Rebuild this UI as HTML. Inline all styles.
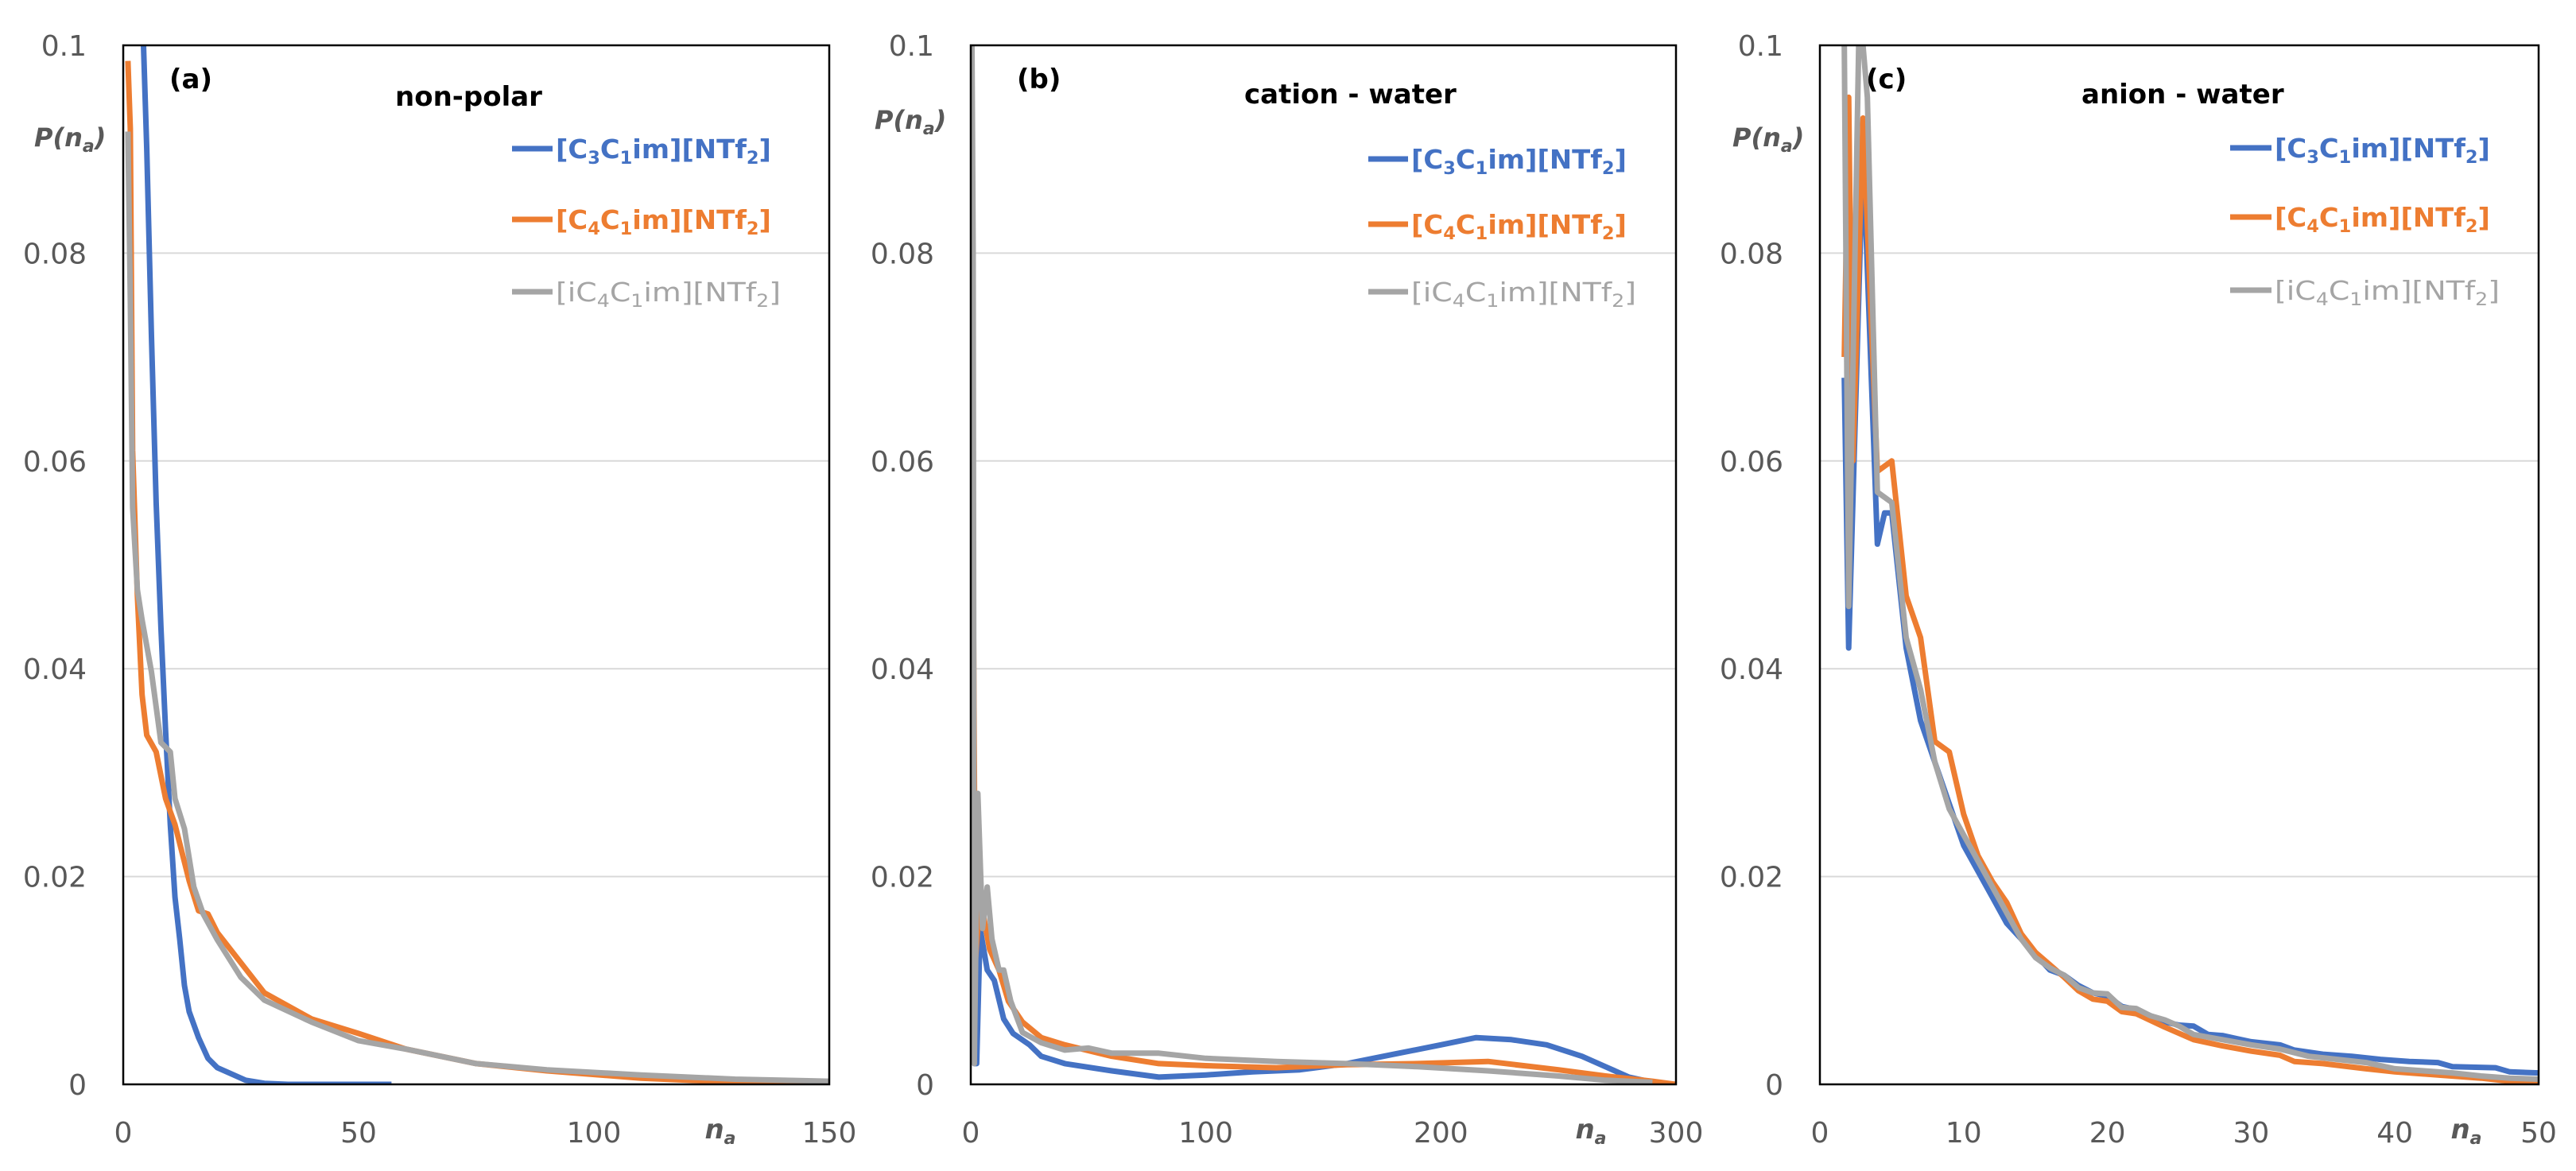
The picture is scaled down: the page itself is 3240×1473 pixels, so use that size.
<!DOCTYPE html>
<html><head><meta charset="utf-8"><style>
html,body{margin:0;padding:0;background:#fff;}
svg{display:block;font-family:"DejaVu Sans","Liberation Sans",sans-serif;}
</style></head><body>
<svg id="chart" width="3240" height="1473" viewBox="0 0 3240 1473" xmlns="http://www.w3.org/2000/svg"></svg>
<script>
// Panel (a) non-polar
const aBlueX=[4.3,5,6,7,8,9,10,11,12,13,14,16,18,20,23,26,30,35,57];
const aBlueY=[0.1,0.09,0.072,0.056,0.044,0.034,0.025,0.018,0.014,0.0095,0.007,0.0045,0.0025,0.0016,0.001,0.0004,0.0001,0,0];
const aOrX=[1,1.5,2,3,4,5,7,9,11,14,16,18,20,25,30,40,50,60,75,90,110,130,150];
const aOrY=[0.0985,0.092,0.061,0.047,0.0375,0.0336,0.032,0.0275,0.025,0.0196,0.0167,0.0164,0.0146,0.0117,0.0088,0.0063,0.0049,0.0034,0.002,0.0013,0.0006,0.0002,0.0002];
const aGrX=[1,1.5,2,3,4,6,8,10,11,13,15,17,20,25,30,40,50,60,75,90,110,130,150];
const aGrY=[0.0917,0.0756,0.0555,0.0476,0.0447,0.0397,0.0329,0.032,0.0275,0.0246,0.019,0.0164,0.0139,0.0103,0.0081,0.006,0.0042,0.0034,0.002,0.0014,0.0009,0.0005,0.0003];
// Panel (b) cation - water
const bBlueX=[0,0.6,1.5,2.5,4,7,10,14,18,25,30,40,60,80,100,120,140,160,180,200,215,230,245,260,270,280,290,295];
const bBlueY=[0.002,0.065,0.002,0.002,0.015,0.011,0.01,0.0063,0.0049,0.0038,0.0027,0.002,0.0013,0.0007,0.0009,0.0012,0.0014,0.002,0.0029,0.0038,0.0045,0.0043,0.0038,0.0027,0.0017,0.0007,0.0002,0];
const bOrX=[0,0.6,2,4,8,12,16,22,30,40,60,80,100,130,160,190,220,250,270,290,300];
const bOrY=[0.002,0.065,0.012,0.018,0.013,0.011,0.008,0.006,0.0045,0.0038,0.0027,0.002,0.0018,0.0016,0.0019,0.002,0.0022,0.0014,0.0008,0.0003,0];
const bGrX=[0,0.5,1,1.5,3,5,7,9,12,14,17,22,30,40,50,60,80,100,130,160,190,220,250,270,290];
const bGrY=[0.1,0.1,0.08,0.002,0.028,0.015,0.019,0.014,0.011,0.011,0.008,0.005,0.004,0.0033,0.0035,0.003,0.003,0.0025,0.0022,0.002,0.0017,0.0013,0.0008,0.0004,0.0002];
// Panel (c) anion - water
const cBlueX=[1.7,2,3,4,4.5,5,6,7,8,9,10,11,12,13,14,15,16,17,18,19,20,21,22,23,24,25,26,27,28,29,30,32,33,35,37,39,41,43,44,47,48,50];
const cBlueY=[0.068,0.042,0.09,0.052,0.055,0.055,0.042,0.035,0.031,0.027,0.023,0.0205,0.018,0.0155,0.014,0.0125,0.011,0.0105,0.0095,0.0088,0.0085,0.0075,0.0072,0.0066,0.006,0.0057,0.0056,0.0048,0.0047,0.0044,0.0041,0.0038,0.0033,0.0029,0.0027,0.0024,0.0022,0.0021,0.0017,0.0016,0.0012,0.0011];
const cOrX=[1.7,2,2.3,3,4,5,6,7,8,9,10,11,12,13,14,15,16,17,18,19,20,21,22,24,26,28,30,32,33,35,38,40,43,46,48,50];
const cOrY=[0.07,0.095,0.06,0.093,0.059,0.06,0.047,0.043,0.033,0.032,0.026,0.022,0.0195,0.0175,0.0145,0.0127,0.0115,0.0103,0.009,0.0082,0.008,0.007,0.0068,0.0055,0.0043,0.0037,0.0032,0.0028,0.0022,0.002,0.0015,0.0012,0.0009,0.0006,0.0003,0.0002];
const cGrX=[1.7,2,2.7,3,3.3,4,5,6,7,8,9,10,11,12,13,14,15,16,17,18,19,20,21,22,23,24,25,26,28,30,32,34,36,38,40,42,44,46,48,50];
const cGrY=[0.1,0.046,0.1,0.1,0.095,0.057,0.056,0.043,0.038,0.031,0.0265,0.024,0.0215,0.019,0.0165,0.014,0.0122,0.0112,0.0105,0.0093,0.0088,0.0087,0.0074,0.0073,0.0066,0.0062,0.0056,0.0048,0.0043,0.0038,0.0034,0.0027,0.0024,0.0021,0.0015,0.0013,0.0011,0.0008,0.0006,0.0005];
const yTicks=[0,0.02,0.04,0.06,0.08,0.1];
const yTickLabels=["0","0.02","0.04","0.06","0.08","0.1"];
const aXTicks=[0,50,100,150];
const bXTicks=[0,100,200,300];
const cXTicks=[0,10,20,30,40,50];

const NS="http://www.w3.org/2000/svg";
const svg=document.getElementById('chart');
const COLORS={blue:"#4472C4",orange:"#ED7D31",gray:"#A5A5A5"};
function mk(tag,attrs,parent){const e=document.createElementNS(NS,tag);for(const k in attrs)e.setAttribute(k,attrs[k]);(parent||svg).appendChild(e);return e;}

const panels=[
 {id:"a",L:155,R:1043,xmax:150,xticks:aXTicks,label:"(a)",title:"non-polar",titleX:497,titleY:133,legLine:644,legText:699,legY:[187,276,367],pX:43,pY:184,naX:906,
  series:[["blue",aBlueX,aBlueY],["orange",aOrX,aOrY],["gray",aGrX,aGrY]]},
 {id:"b",L:1221,R:2108,xmax:300,xticks:bXTicks,label:"(b)",title:"cation - water",titleX:1565,titleY:130,legLine:1721,legText:1775,legY:[200,282,367],pX:1100,pY:162,naX:2001,
  series:[["blue",bBlueX,bBlueY],["orange",bOrX,bOrY],["gray",bGrX,bGrY]]},
 {id:"c",L:2289,R:3193,xmax:50,xticks:cXTicks,label:"(c)",title:"anion - water",titleX:2618,titleY:130,legLine:2805,legText:2861,legY:[186,273,365],pX:2179,pY:184,naX:3102,
  series:[["blue",cBlueX,cBlueY],["orange",cOrX,cOrY],["gray",cGrX,cGrY]]}
];
const T=57,B=1364;
const names=[["C","3"],["C","4"],["iC","4"]];
panels.forEach(p=>{
  const g=mk('g',{});
  
  
  const xs=v=>p.L+(v/p.xmax)*(p.R-p.L);
  const ys=v=>B-(v/0.1)*(B-T);
  // grid
  yTicks.forEach((t,i)=>{
    if(t>0&&t<0.1){const gl=mk('line',{x1:p.L,x2:p.R,y1:ys(t),y2:ys(t),stroke:"#d9d9d9","stroke-width":2},g);
      
      }
    const tl=mk('text',{x:p.L-46,y:ys(t)+13,"text-anchor":"end","font-size":36,fill:"#595959"},g);
    tl.textContent=yTickLabels[i];
    
    
  });
  p.xticks.forEach(t=>{
    const tl=mk('text',{x:xs(t),y:1437,"text-anchor":"middle","font-size":36,fill:"#595959"},g);
    tl.textContent=String(t);
    
    
  });
  // clip
  const cp=mk('clipPath',{id:"clip"+p.id},g);
  mk('rect',{x:p.L,y:T,width:p.R-p.L,height:B-T},cp);
  p.series.forEach(s=>{
    const pts=s[1].map((x,i)=>xs(x).toFixed(1)+","+ys(s[2][i]).toFixed(1)).join(" ");
    const pl=mk('polyline',{points:pts,fill:"none",stroke:COLORS[s[0]],"stroke-width":7,"stroke-linejoin":"round","clip-path":"url(#clip"+p.id+")"},g);
    
    
  });
  const fr=mk('rect',{x:p.L,y:T,width:p.R-p.L,height:B-T,fill:"none",stroke:"#000","stroke-width":2.5},g);
  
  
  const lb=mk('text',{x:p.L+58,y:111,"font-size":34,"font-weight":"bold",fill:"#000"},g);
  lb.textContent=p.label;
  
  
  const ti=mk('text',{x:p.titleX,y:p.titleY,"font-size":34,"font-weight":"bold",fill:"#000"},g);
  ti.textContent=p.title;
  
  
  const pt=mk('text',{x:p.pX,y:p.pY,"font-size":32,"font-weight":"bold","font-style":"italic",fill:"#595959"},g);
  pt.innerHTML='P(n<tspan font-size="22" dy="7">a</tspan><tspan dy="-7">)</tspan>';
  
  
  const na=mk('text',{x:p.naX,y:1432,"text-anchor":"middle","font-size":34,"font-weight":"bold","font-style":"italic",fill:"#595959"},g);
  na.innerHTML='n<tspan font-size="22" dy="7">a</tspan>';
  
  
  ["blue","orange","gray"].forEach((c,i)=>{
    const y=p.legY[i];
    const le=mk('g',{},g);
    
    
    mk('line',{x1:p.legLine,x2:p.legText-4,y1:y,y2:y,stroke:COLORS[c],"stroke-width":7},le);
    const tx=mk('text',{x:p.legText,y:y+12,"font-size":33,"font-weight":c==="gray"?"normal":"bold",fill:COLORS[c],textLength:c==="gray"?283:271,lengthAdjust:"spacingAndGlyphs"},le);
    tx.innerHTML='['+names[i][0]+'<tspan font-size="22" dy="7">'+names[i][1]+'</tspan><tspan dy="-7">C</tspan><tspan font-size="22" dy="7">1</tspan><tspan dy="-7">im][NTf</tspan><tspan font-size="22" dy="7">2</tspan><tspan dy="-7">]</tspan>';
  });
});
</script>
</body></html>
